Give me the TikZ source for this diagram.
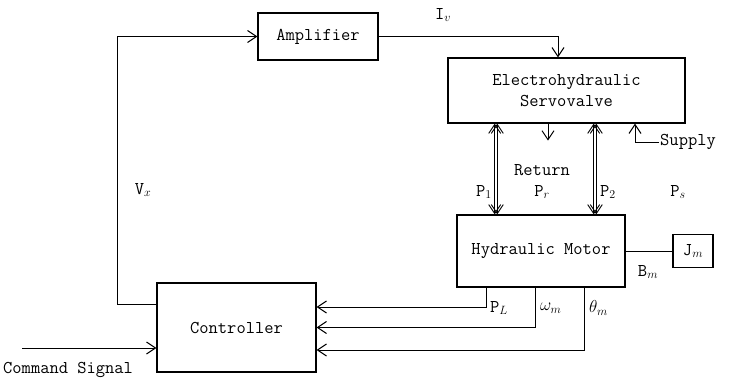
\documentclass[tikz,border=0pt]{standalone}
\usepackage{tikz}
\usetikzlibrary{arrows.meta,positioning}

\begin{document}
\begin{tikzpicture}[
    x=1pt,y=-1pt,
    every node/.style={font=\fontsize{18}{21}\selectfont\ttfamily,align=center},
    box/.style={draw,line width=1.2pt,inner sep=2pt},
    lbl/.style={inner sep=1pt},
    arr/.style={-{Straight Barb[length=9pt,width=12pt]},line width=1pt},
    flow/.style={{Straight Barb[length=9pt,width=12pt]}-{Straight Barb[length=9pt,width=12pt]},
                 line width=0.9pt}
]
\useasboundingbox (0,0) rectangle (730,378);
% blocks
\node[box,minimum width=120pt,minimum height=47pt] (amp) at (318,36.5) {Amplifier};
\node[box,minimum width=237pt,minimum height=65pt] (sv) at (566.5,90.5) {Electrohydraulic\\Servovalve};
\node[box,minimum width=168pt,minimum height=72pt] (hm) at (541,251) {Hydraulic Motor};
\node[box,minimum width=40pt,minimum height=33pt] (jm) at (693,251) {J$_m$};
\node[box,minimum width=159pt,minimum height=89pt] (ctrl) at (236.5,327.5) {Controller};
% x positions of the hydraulic lines
\coordinate (p1) at (496,0);
\coordinate (ret) at (548,0);
\coordinate (p2) at (595,0);
\coordinate (sx) at (635,0);
\coordinate (pl) at (486,0);
\coordinate (wm) at (535,0);
\coordinate (tm) at (584,0);
\coordinate (cmd) at (22,348);
% labels
\node[lbl] (iv) at (443,15) {I$_v$};
\node[lbl] (vx) at (143,190) {V$_x$};
\node[lbl] (return) at (542,170) {Return};
\node[lbl] (pr) at (542,192) {P$_r$};
\node[lbl,anchor=east] (lp1) at (493,192) {P$_1$};
\node[lbl,anchor=west] (lp2) at (599,192) {P$_2$};
\node[lbl] (ps) at (678,192) {P$_s$};
\node[lbl,anchor=west] (supply) at (659,142) {Supply};
\node[lbl] (bm) at (648,272) {B$_m$};
\node[lbl,anchor=west] (lpl) at (489,308) {P$_L$};
\node[lbl,anchor=west] (lwm) at (539,308) {$\omega_m$};
\node[lbl,anchor=west] (ltm) at (588,308) {$\theta_m$};
\node[lbl,anchor=west] (cmdsig) at (2,370) {Command Signal};
% connectors
\draw[arr] ([yshift=23pt]ctrl.west) -- ++(-39,0) |- (amp);
\draw[arr] (amp) -| ([xshift=-8.5pt]sv.north);
\draw[flow] ([xshift=-1.3pt]sv.south -| p1) -- ([xshift=-1.3pt]hm.north -| p1);
\draw[flow] ([xshift=1.3pt]sv.south -| p1) -- ([xshift=1.3pt]hm.north -| p1);
\draw[flow] ([xshift=-1.3pt]sv.south -| p2) -- ([xshift=-1.3pt]hm.north -| p2);
\draw[flow] ([xshift=1.3pt]sv.south -| p2) -- ([xshift=1.3pt]hm.north -| p2);
\draw[arr] (sv.south -| ret) -- ++(0,17);
\draw[arr] (supply.west) -| (sv.south -| sx);
\draw[line width=1pt] (hm) -- (jm);
\draw[arr] (hm.south -| pl) |- ([yshift=20.5pt]ctrl.east);
\draw[arr] (hm.south -| wm) |- (ctrl.east);
\draw[arr] (hm.south -| tm) |- ([yshift=-22.5pt]ctrl.east);
\draw[arr] (cmd) -- (ctrl.west |- cmd);
\end{tikzpicture}
\end{document}
